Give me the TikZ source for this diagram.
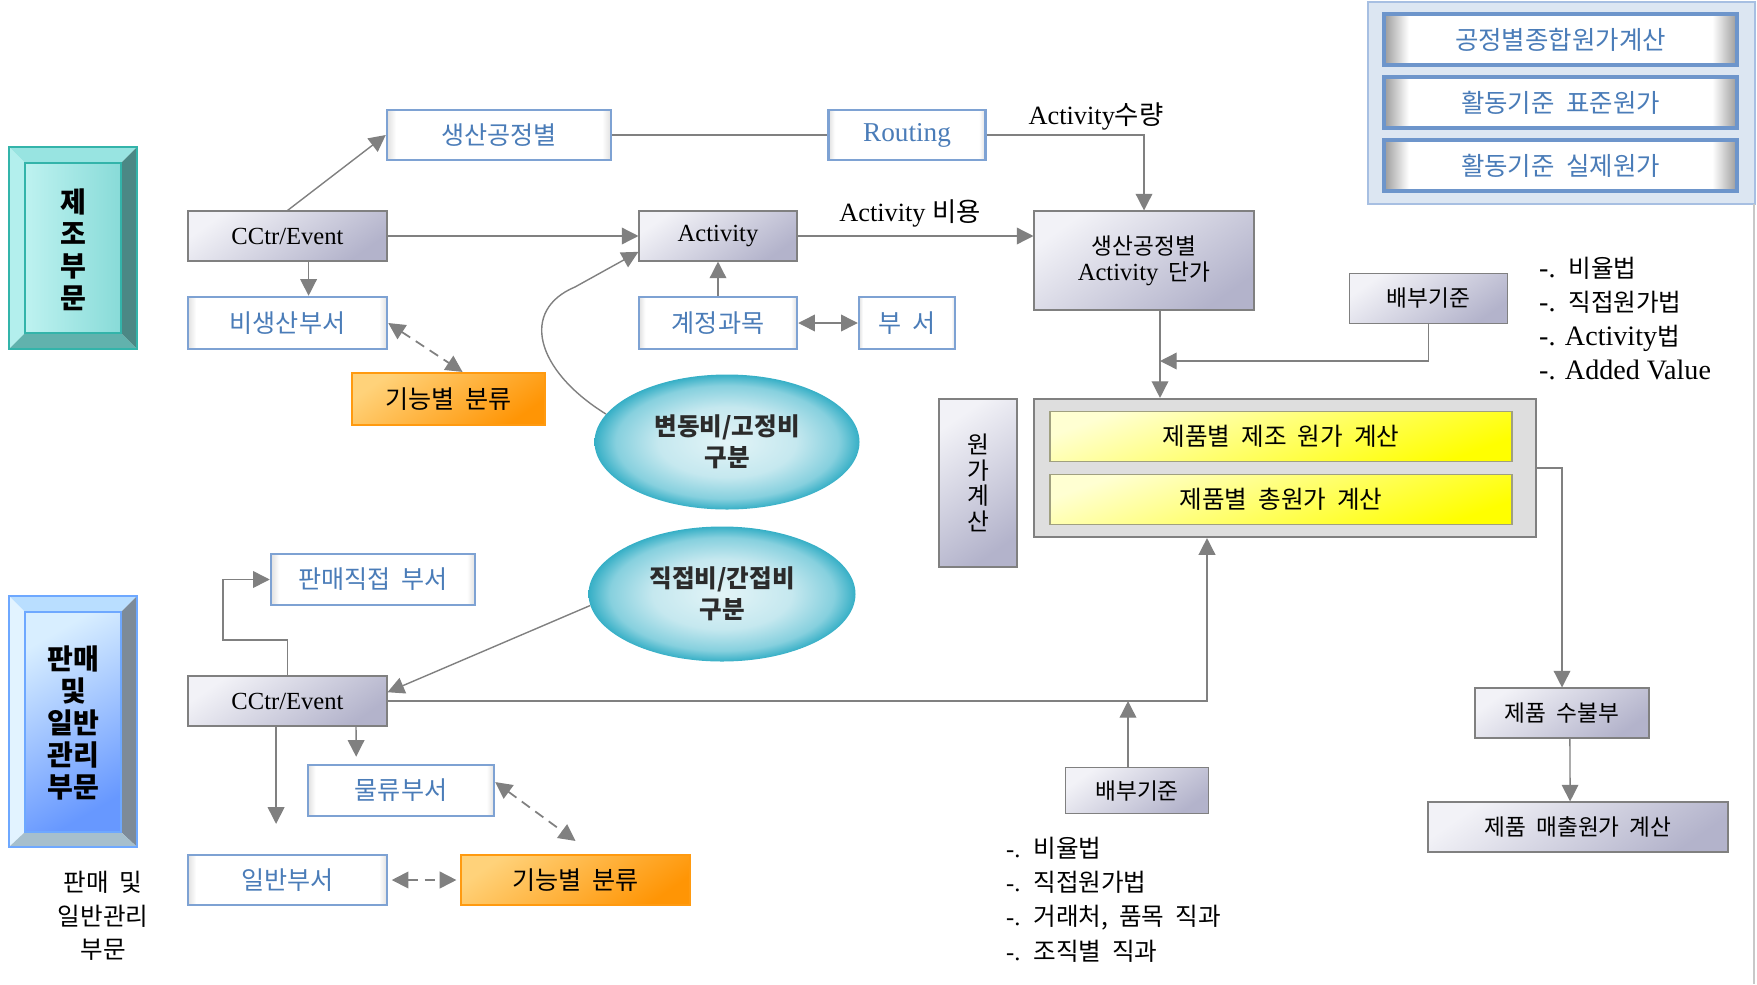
\documentclass[tikz,border=0pt]{standalone}
\usepackage{fontspec}
\setmainfont{Liberation Serif}
\newfontfamily\kr[WordSpace=2]{Noto Sans CJK KR}
\usepackage{xcolor}
\definecolor{lgray}{HTML}{808080}
\definecolor{edgegray}{HTML}{C8C8C8}
\definecolor{bborder}{HTML}{7EA2D3}
\definecolor{btext}{HTML}{4A7CB8}
\definecolor{gtop}{HTML}{F2F2F7}
\definecolor{gbot}{HTML}{B3B3CB}
\definecolor{otop}{HTML}{FFD27A}
\definecolor{obot}{HTML}{FF9505}
\definecolor{oborder}{HTML}{FF9A10}
\definecolor{ytop}{HTML}{FFFFD2}
\definecolor{ybot}{HTML}{FFFF00}
\definecolor{yborder}{HTML}{A0A080}
\definecolor{cfill}{HTML}{DEDEDE}
\definecolor{pfill}{HTML}{DCE6F2}
\definecolor{pborder}{HTML}{A7BFE2}
\definecolor{pbox}{HTML}{6D95CB}
\definecolor{rimlight}{HTML}{E0E0E0}
\definecolor{rimdark}{HTML}{9A9A9A}
\definecolor{lagoonA}{HTML}{E3F4F7}
\definecolor{lagoonB}{HTML}{C5E8EF}
\definecolor{lagoonC}{HTML}{86D0DE}
\definecolor{lagoonD}{HTML}{36AFC6}
\definecolor{ink}{HTML}{2B2B2B}
\definecolor{mfgtop}{HTML}{98E4E1}
\definecolor{mfgleft}{HTML}{B3EFED}
\definecolor{mfgright}{HTML}{4B8885}
\definecolor{mfgbot}{HTML}{61B2AD}
\definecolor{mfgfaceA}{HTML}{BEF2F0}
\definecolor{mfgfaceB}{HTML}{88DBD8}
\definecolor{mfgline}{HTML}{33B4AA}
\definecolor{saltop}{HTML}{B9DEFF}
\definecolor{salleft}{HTML}{E2F3FF}
\definecolor{salright}{HTML}{7D8B99}
\definecolor{salbot}{HTML}{A6BFCD}
\definecolor{salfaceA}{HTML}{D8EEFF}
\definecolor{salfaceB}{HTML}{6798FF}
\definecolor{salline}{HTML}{6EA8FF}
\usepackage{tikz}
\usetikzlibrary{arrows.meta,shapes.geometric}
\pgfdeclarehorizontalshading{rimsoft}{100bp}{color(0bp)=(rimlight); color(25bp)=(rimlight); color(27bp)=(white); color(73bp)=(white); color(75bp)=(rimlight); color(100bp)=(rimlight)}
\pgfdeclarehorizontalshading{rimhard}{100bp}{color(0bp)=(rimdark); color(25bp)=(rimdark); color(28.5bp)=(white); color(71.5bp)=(white); color(75bp)=(rimdark); color(100bp)=(rimdark)}
\pgfdeclareradialshading{lagoon}{\pgfpoint{0bp}{0bp}}{color(0bp)=(lagoonA); color(13bp)=(lagoonB); color(21bp)=(lagoonC); color(25bp)=(lagoonD); color(50bp)=(lagoonD)}
\newlength{\unitpx}
\setlength{\unitpx}{0.02cm}
\newcommand{\lbl}{\fontsize{14.3}{15.5}\selectfont}
\newcommand{\glbl}{\fontsize{12.9}{15}\selectfont}
\newcommand{\latn}[1]{{\rmfamily\fontsize{14}{15}\selectfont #1}}
\newcommand{\latb}[1]{{\rmfamily\fontsize{16}{19.5}\selectfont #1}}
\tikzset{
  link/.style={draw=lgray, line width=0.8pt},
  dashlink/.style={link, <->, line width=1pt, dash pattern=on 5.7pt off 3.8pt},
  bluebox/.style={shade, shading=rimsoft, draw=bborder, line width=1.4pt, text=btext, font=\kr\lbl, inner sep=0pt},
  panelbox/.style={shade, shading=rimhard, draw=pbox, line width=1.8pt, text=btext, font=\kr\fontsize{14.5}{16}\selectfont, inner sep=0pt},
  greybox/.style={draw=lgray, line width=0.6pt, top color=gtop, bottom color=gbot, shading angle=35, font=\kr\glbl, inner sep=0pt},
  orangebox/.style={draw=oborder, line width=1.2pt, top color=otop, bottom color=obot, shading angle=35, font=\kr\lbl, inner sep=0pt},
  yellowbox/.style={draw=yborder, line width=0.7pt, top color=ytop, bottom color=ybot, shading angle=20, font=\kr\fontsize{14}{16}\selectfont, inner sep=0pt},
  blob/.style={ellipse, shade, shading=lagoon, text=ink, align=center, inner sep=0pt, font=\kr\bfseries\fontsize{14}{17.5}\selectfont},
  divtext/.style={align=center, font=\kr\bfseries\fontsize{16}{18.2}\selectfont},
  note/.style={align=left, anchor=west, font=\kr\fontsize{14}{19.5}\selectfont},
}
\begin{document}
\begin{tikzpicture}[x=0.02cm, y=-0.02cm, >={Triangle[length=9.5pt,width=9.5pt]}]
\useasboundingbox (0,0) rectangle (1757,984);
\fill[mfgtop] (9,147) -- (137,147) -- (121,163) -- (25,163) -- cycle;
\fill[mfgleft] (9,147) -- (25,163) -- (25,333) -- (9,349) -- cycle;
\fill[mfgright] (137,147) -- (137,349) -- (121,333) -- (121,163) -- cycle;
\fill[mfgbot] (9,349) -- (137,349) -- (121,333) -- (25,333) -- cycle;
\shade[left color=mfgfaceA, right color=mfgfaceB] (25,163) rectangle (121,333);
\draw[mfgline, line width=0.8pt] (9,147) rectangle (137,349) (25,163) rectangle (121,333);
\node[divtext] (mfgtxt) at (73,250) {제\\조\\부\\문};

\fill[saltop] (9,596) -- (137,596) -- (121,612) -- (25,612) -- cycle;
\fill[salleft] (9,596) -- (25,612) -- (25,832) -- (9,847) -- cycle;
\fill[salright] (137,596) -- (137,847) -- (121,832) -- (121,612) -- cycle;
\fill[salbot] (9,847) -- (137,847) -- (121,832) -- (25,832) -- cycle;
\shade[top color=salfaceA, bottom color=salfaceB, shading angle=30] (25,612) rectangle (121,832);
\draw[salline, line width=0.8pt] (9,596) rectangle (137,847) (25,612) rectangle (121,832);
\node[divtext] (saltxt) at (73,723) {판매\\및\\일반\\관리\\부문};
\node[align=center, font=\kr\fontsize{14}{19}\selectfont] (salcap) at (103,916) {판매 및\\일반관리\\부문};

\draw[pborder, fill=pfill, line width=1.2pt] (1368,2) rectangle (1755,204);
\node[panelbox, minimum width=353\unitpx, minimum height=51\unitpx] (sumcost) at (1560.5,39.5) {공정별종합원가계산};
\node[panelbox, minimum width=353\unitpx, minimum height=51\unitpx] (stdcost) at (1560.5,102.5) {활동기준 표준원가};
\node[panelbox, minimum width=353\unitpx, minimum height=51\unitpx] (actcost) at (1560.5,165.5) {활동기준 실제원가};
\draw[edgegray, line width=1pt] (1754,204) -- (1754,984);

\node[bluebox, minimum width=224\unitpx, minimum height=50\unitpx] (proc) at (499,135) {생산공정별};
\node[bluebox, minimum width=157\unitpx, minimum height=50\unitpx] (routing) at (907,135) {{\rmfamily\fontsize{15.5}{16}\selectfont Routing}};
\node[greybox, minimum width=199\unitpx, minimum height=50\unitpx] (cctrA) at (287.5,236) {\latn{CCtr/Event}};
\node[greybox, minimum width=158\unitpx, minimum height=50\unitpx] (act) at (718,236) {\latn{Activity}};
\node[greybox, minimum width=220\unitpx, minimum height=99\unitpx, align=center] (unit) at (1144,260.5) {생산공정별\\\latn{Activity} 단가};
\node[bluebox, minimum width=199\unitpx, minimum height=52\unitpx] (nonprod) at (287.5,323) {비생산부서};
\node[orangebox, minimum width=193\unitpx, minimum height=52\unitpx] (funcA) at (448.5,399) {기능별 분류};
\node[bluebox, minimum width=158\unitpx, minimum height=52\unitpx] (acct) at (718,323) {계정과목};
\node[bluebox, minimum width=96\unitpx, minimum height=52\unitpx] (dept) at (907,323) {부 서};
\node[blob, minimum width=265\unitpx, minimum height=135\unitpx] (varfix) at (727,442) {변동비/고정비\\구분};
\node[blob, minimum width=267\unitpx, minimum height=135\unitpx] (dirind) at (722,594) {직접비/간접비\\구분};
\node[font=\fontsize{15}{16}\selectfont] (qtylbl) at (1096,116) {Activity{\kr 수량}};
\node[font=\fontsize{15}{16}\selectfont] (costlbl) at (910,213) {Activity {\kr 비용}};

\node[bluebox, minimum width=204\unitpx, minimum height=51\unitpx] (saldir) at (373,579.5) {판매직접 부서};
\node[greybox, minimum width=199\unitpx, minimum height=50\unitpx] (cctrB) at (287.5,701) {\latn{CCtr/Event}};
\node[bluebox, minimum width=186\unitpx, minimum height=51\unitpx] (logi) at (401,790.5) {물류부서};
\node[bluebox, minimum width=199\unitpx, minimum height=50\unitpx] (gen) at (287.5,880) {일반부서};
\node[orangebox, minimum width=229\unitpx, minimum height=50\unitpx] (funcB) at (575.5,880) {기능별 분류};

\node[greybox, minimum width=78\unitpx, minimum height=168\unitpx, align=center, font=\kr\fontsize{13.5}{14.5}\selectfont] (costcalc) at (978,483) {원\\가\\계\\산};
\node[draw=lgray, fill=cfill, line width=1.2pt, minimum width=502\unitpx, minimum height=138\unitpx] (calcbox) at (1285,468) {};
\node[yellowbox, minimum width=462\unitpx, minimum height=50\unitpx] (mfgcost) at (1281,436.5) {제품별 제조 원가 계산};
\node[yellowbox, minimum width=462\unitpx, minimum height=50\unitpx] (totcost) at (1281,499.5) {제품별 총원가 계산};
\node[greybox, minimum width=158\unitpx, minimum height=50\unitpx] (basisA) at (1428.5,298.5) {배부기준};
\node[greybox, minimum width=143\unitpx, minimum height=46\unitpx] (basisB) at (1137,790.5) {배부기준};
\node[greybox, minimum width=174\unitpx, minimum height=50\unitpx] (ledger) at (1562,713) {제품 수불부};
\node[greybox, minimum width=300\unitpx, minimum height=50\unitpx] (cogs) at (1578,827) {제품 매출원가 계산};
\node[note] (ruleA) at (1533,318.5) {\latb{-.} 비율법\\\latb{-.} 직접원가법\\\latb{-. Activity}법\\\latb{-. Added Value}};
\node[note] (ruleB) at (1000,899.5) {\latn{-.} 비율법\\\latn{-.} 직접원가법\\\latn{-.} 거래처, 품목 직과\\\latn{-.} 조직별 직과};

\coordinate (drop) at (1160,361);
\coordinate (merge) at (1207,701);
\coordinate (feed) at (1128,701);
\coordinate (saljog) at (223,640);

\draw[link, ->] (cctrA.north) -- (proc.west);
\draw[link] (proc.east) -- (routing.west);
\draw[link, ->] (routing.east) -| (unit.north);
\draw[link, ->] (cctrA.east) -- (act.west);
\draw[link, ->] (act.east) -- (unit.west |- act.east);
\draw[link, ->] ([xshift=12pt]cctrA.south) -- ([xshift=12pt]nonprod.north);
\draw[dashlink] (nonprod.east) -- ([xshift=8pt]funcA.north);
\draw[link, ->] (acct.north) -- (act.south);
\draw[link, <->] (acct.east) -- (dept.west);
\draw[link, ->] (varfix.167) .. controls (535,370) and (520,310) .. (575,287) -- ([yshift=-9pt]act.west);
\draw[link, ->] (dirind.185) -- ([yshift=5pt]cctrB.east);
\draw[link, ->] (cctrB.north) |- (saljog) |- (saldir.west);
\draw[link, ->] ([xshift=-6.5pt]cctrB.south) -- ([xshift=-6.5pt,yshift=17pt]gen.north);
\draw[link, ->] ([xshift=39pt]cctrB.south) -- ([xshift=-25.5pt,yshift=4pt]logi.north);
\draw[dashlink] ([yshift=4.8pt]logi.east) -- ([yshift=7.4pt]funcB.north);
\draw[dashlink, shorten <=2pt, shorten >=2pt] (gen.east) -- (funcB.west);
\draw[link, ->] (cctrB.east) -- (merge) -- (merge |- calcbox.south);
\draw[link, ->] (basisB.north -| feed) -- (feed);
\draw[link, ->] (unit.south -| drop) -- (drop |- calcbox.north);
\draw[link, ->] (basisA.south) |- (drop);
\draw[link, ->] (calcbox.east) -| (ledger.north);
\draw[link, ->] ([xshift=4.5pt]ledger.south) -- ([xshift=-4.5pt]cogs.north);
\end{tikzpicture}
\end{document}
